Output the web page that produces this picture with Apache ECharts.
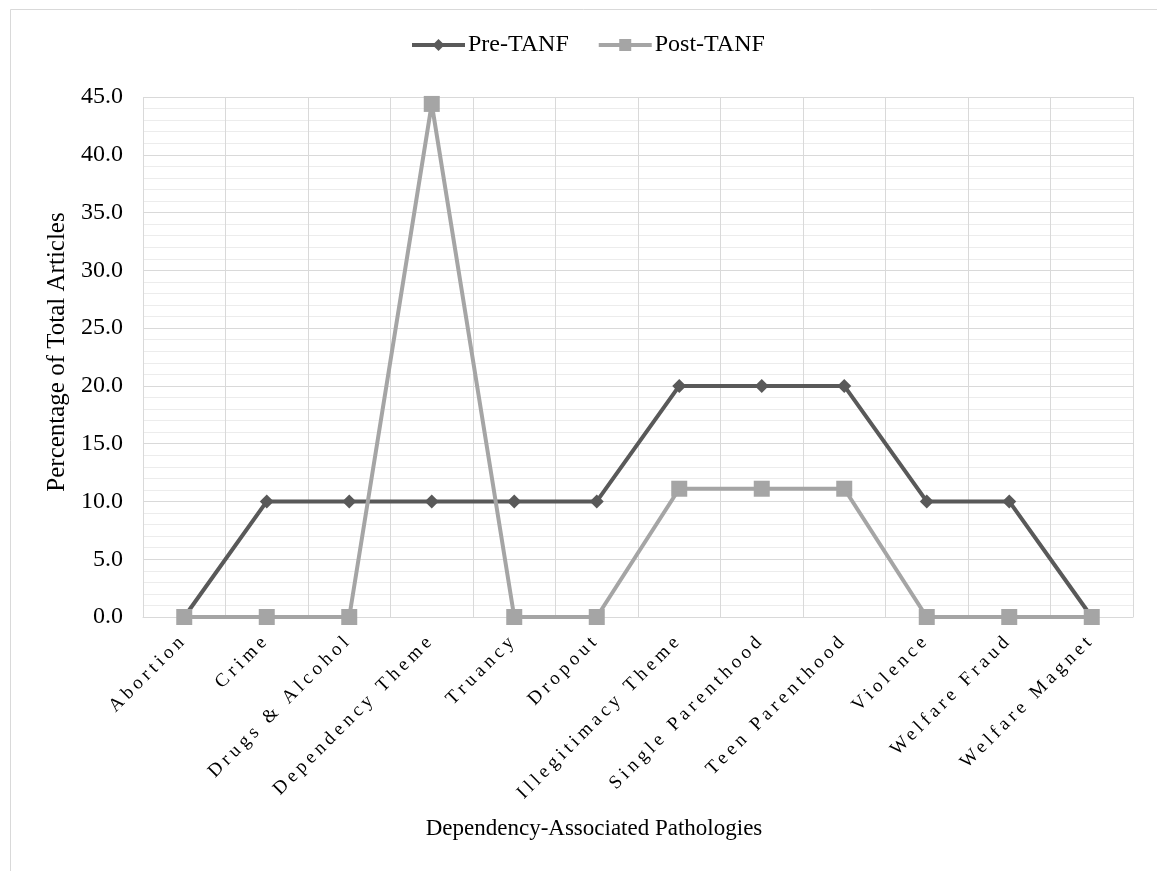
<!DOCTYPE html>
<html>
<head>
<meta charset="utf-8">
<script src="https://cdn.jsdelivr.net/npm/echarts@6/dist/echarts.min.js"></script>
<style>
  html, body { margin: 0; padding: 0; background: #ffffff; }
  #chart { width: 1157px; height: 871px; }
</style>
</head>
<body>
<div id="chart"></div>
<script>
// Categories of dependency-associated pathologies
const categories = [
  'Abortion', 'Crime', 'Drugs & Alcohol', 'Dependency Theme', 'Truancy', 'Dropout',
  'Illegitimacy Theme', 'Single Parenthood', 'Teen Parenthood', 'Violence',
  'Welfare Fraud', 'Welfare Magnet'
];
// Percentage of total articles per period
const preTANF  = [0, 10, 10, 10, 10, 10, 20, 20, 20, 10, 10, 0];
const postTANF = [0, 0, 0, 44.4, 0, 0, 11.1, 11.1, 11.1, 0, 0, 0];

const serif = 'Liberation Serif';

// Category labels are set with wide tracking; every other text is drawn untracked
const trackedLabels = new Set(categories);
const ctxProto = CanvasRenderingContext2D.prototype;
const baseFillText = ctxProto.fillText;
ctxProto.fillText = function (text, x, y, maxWidth) {
  if ('letterSpacing' in this) {
    this.letterSpacing = trackedLabels.has(text) ? '4.2px' : '0px';
  }
  const r = maxWidth === undefined
    ? baseFillText.call(this, text, x, y)
    : baseFillText.call(this, text, x, y, maxWidth);
  if ('letterSpacing' in this) this.letterSpacing = '0px';
  return r;
};

const chart = echarts.init(document.getElementById('chart'), null, { renderer: 'canvas' });

chart.setOption({
  animation: false,
  backgroundColor: '#ffffff',
  textStyle: { fontFamily: serif, color: '#000000' },
  graphic: [
    { type: 'line', shape: { x1: 10.5, y1: 9.5, x2: 1157, y2: 9.5 }, style: { stroke: '#d9d9d9', lineWidth: 1 } },
    { type: 'line', shape: { x1: 10.5, y1: 9.5, x2: 10.5, y2: 871 }, style: { stroke: '#d9d9d9', lineWidth: 1 } }
  ],
  legend: {
    top: 33,
    left: 410,
    padding: 0,
    itemWidth: 53,
    itemHeight: 15,
    itemGap: 28,
    lineStyle: { width: 4 },
    textStyle: { fontFamily: serif, fontSize: 24, color: '#000000', padding: [0, 0, 0, -2] },
    data: ['Pre-TANF', 'Post-TANF']
  },
  grid: { left: 143, right: 24, top: 97, bottom: 254, containLabel: false },
  xAxis: {
    type: 'category',
    data: categories,
    boundaryGap: true,
    name: 'Dependency-Associated Pathologies',
    nameLocation: 'middle',
    nameGap: 200,
    nameTextStyle: { fontFamily: serif, fontSize: 23, color: '#000000', padding: [0, 88, 0, 0] },
    axisLine: { show: true, lineStyle: { color: '#d9d9d9', width: 1 } },
    axisTick: { show: false },
    splitLine: { show: true, lineStyle: { color: '#d9d9d9', width: 1 } },
    axisLabel: {
      rotate: 45,
      interval: 0,
      margin: 20,
      fontFamily: serif,
      fontSize: 19,
      color: '#000000'
    }
  },
  yAxis: {
    type: 'value',
    min: 0,
    max: 45,
    interval: 5,
    name: 'Percentage of Total Articles',
    nameLocation: 'middle',
    nameGap: 72,
    nameTextStyle: { fontFamily: serif, fontSize: 25, color: '#000000', padding: [0, 0, 0, 10] },
    axisLine: { show: false },
    axisTick: { show: false },
    axisLabel: {
      margin: 20,
      fontFamily: serif,
      fontSize: 24,
      color: '#000000',
      formatter: v => v.toFixed(1)
    },
    splitLine: { show: true, lineStyle: { color: '#d9d9d9', width: 1 } },
    minorTick: { show: false, splitNumber: 5 },
    minorSplitLine: { show: true, lineStyle: { color: '#ececec', width: 1 } }
  },
  series: [
    {
      name: 'Pre-TANF',
      type: 'line',
      data: preTANF,
      symbol: 'diamond',
      symbolSize: 14,
      showAllSymbol: true,
      z: 3,
      lineStyle: { color: '#595959', width: 4 },
      itemStyle: { color: '#595959' }
    },
    {
      name: 'Post-TANF',
      type: 'line',
      data: postTANF,
      symbol: 'rect',
      symbolSize: 16,
      showAllSymbol: true,
      z: 4,
      lineStyle: { color: '#a5a5a5', width: 4 },
      itemStyle: { color: '#a5a5a5' }
    }
  ]
});
</script>
</body>
</html>
